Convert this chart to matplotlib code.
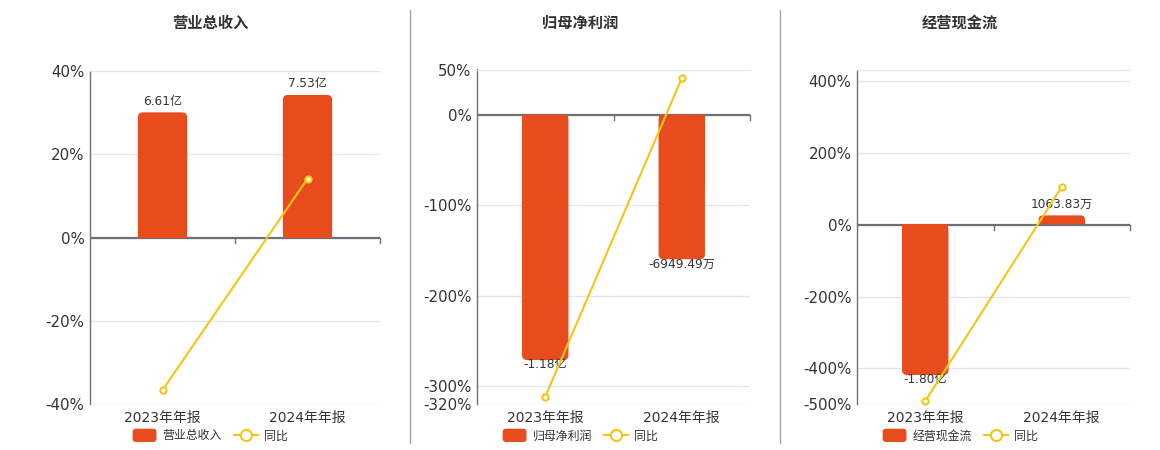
import matplotlib
matplotlib.use("Agg")
import matplotlib.pyplot as plt
from matplotlib.patches import FancyBboxPatch, Rectangle
from matplotlib.lines import Line2D
from matplotlib.legend_handler import HandlerPatch

plt.rcParams['font.family'] = ['DejaVu Sans', 'Noto Sans CJK SC']

# ---------------- data ----------------
categories = ['2023年年报', '2024年年报']

titles = ['营业总收入', '归母净利润', '经营现金流']

# bar values in 亿
revenue = [6.61, 7.53]
net_profit = [-1.18, -0.694949]
cash_flow = [-1.80, 0.106383]

revenue_labels = ['6.61亿', '7.53亿']
net_profit_labels = ['-1.18亿', '-6949.49万']
cash_flow_labels = ['-1.80亿', '1063.83万']

# year-over-year (%)
revenue_yoy = [-36.6, 14.1]
net_profit_yoy = [-311.7, 40.4]
cash_flow_yoy = [-491.0, 106.0]

revenue_ticks = [40, 20, 0, -20, -40]
net_profit_ticks = [50, 0, -100, -200, -300, -320]
cash_flow_ticks = [400, 200, 0, -200, -400, -500]

# ---------------- style ----------------
BAR_C = '#E84C1D'
LINE_C = '#F3C614'
TXT_C = '#333333'
AX_C = '#6E7079'
GRID_C = '#E0E6F1'

W, H = 1160, 450
fig = plt.figure(figsize=(W / 100, H / 100), dpi=100)

panels = [
    dict(title=titles[0], bars=revenue, labels=revenue_labels, yoy=revenue_yoy,
         ticks=revenue_ticks, ylim=(-40, 40), blim=(-8.81, 8.81),
         left=90, right=380, top=70.7, cx=210),
    dict(title=titles[1], bars=net_profit, labels=net_profit_labels, yoy=net_profit_yoy,
         ticks=net_profit_ticks, ylim=(-320, 50), blim=(-1.393, 0.2176),
         left=477, right=750, top=69.5, cx=580),
    dict(title=titles[2], bars=cash_flow, labels=cash_flow_labels, yoy=cash_flow_yoy,
         ticks=cash_flow_ticks, ylim=(-500, 432), blim=(-2.15, 1.843),
         left=857, right=1130, top=70, cx=960),
]
BOTTOM = 404.3


class HandlerRound(HandlerPatch):
    def create_artists(self, legend, orig_handle, xdescent, ydescent, width,
                       height, fontsize, trans):
        p = FancyBboxPatch((-xdescent, -ydescent - 1.5), width, height + 3,
                           boxstyle="round,pad=0,rounding_size=2.5",
                           fc=BAR_C, ec='none', transform=trans)
        return [p]


for p in panels:
    axpos = [p['left'] / W, 1 - BOTTOM / H, (p['right'] - p['left']) / W,
             (BOTTOM - p['top']) / H]
    axw_px = p['right'] - p['left']
    axh_px = BOTTOM - p['top']
    ax = fig.add_axes(axpos)
    ax.set_xlim(-0.5, 1.5)
    ax.set_ylim(*p['ylim'])
    ax.set_yticks(p['ticks'])
    ax.set_yticklabels([f'{t}%' for t in p['ticks']])
    ax.yaxis.grid(True, color=GRID_C, lw=1)
    ax.set_axisbelow(True)
    ax.set_xticks(range(len(categories)))
    ax.set_xticklabels(categories)
    ax.tick_params(axis='x', length=0, pad=5, labelsize=10, labelcolor=TXT_C)
    ax.tick_params(axis='y', length=0, pad=4, labelsize=10.8, labelcolor=TXT_C)
    for s in ['right', 'bottom']:
        ax.spines[s].set_visible(False)
    ax.spines['top'].set_color(GRID_C)
    ax.spines['left'].set_color(AX_C)
    ax.spines['left'].set_linewidth(1)

    # zero axis with category-boundary ticks
    y0, y1 = p['ylim']
    zf = (0 - y0) / (y1 - y0)
    ax.axhline(0, color=AX_C, lw=1.6, zorder=3)
    tick_len = 5.0 / axh_px
    for xb in [0.5, 1.5]:
        ax.plot([xb, xb], [zf, zf - tick_len], color=AX_C, lw=1,
                transform=ax.get_xaxis_transform(), clip_on=False, zorder=3)

    # bars on their own scale
    axb = ax.twinx()
    axb.set_ylim(*p['blim'])
    axb.axis('off')
    xu = 2.0 / axw_px
    yu = (p['blim'][1] - p['blim'][0]) / axh_px
    bw = 0.34
    for i, v in enumerate(p['bars']):
        hpx = abs(v) / yu
        rpx = min(5.0, hpx / 2)
        fb = FancyBboxPatch((i - bw / 2, min(0, v)), bw, abs(v),
                            boxstyle=f"round,pad=0,rounding_size={rpx * xu}",
                            mutation_aspect=yu / xu, fc=BAR_C, ec='none', zorder=2)
        axb.add_patch(fb)
        axb.add_patch(Rectangle((i - bw / 2, 0), bw, v / 2, fc=BAR_C, ec='none', zorder=2))
        if v >= 0:
            axb.annotate(p['labels'][i], (i, v), xytext=(0, 8), textcoords='offset points',
                         ha='center', va='center', fontsize=8.7, color=TXT_C, zorder=5)
        else:
            axb.annotate(p['labels'][i], (i, v), xytext=(0, -3.5), textcoords='offset points',
                         ha='center', va='center', fontsize=8.7, color=TXT_C, zorder=5)

    # yoy line
    axl = ax.twinx()
    axl.set_ylim(*p['ylim'])
    axl.axis('off')
    axl.plot(range(len(categories)), p['yoy'], color=LINE_C, lw=1.5, marker='o',
             ms=4.5, mfc='white', mec=LINE_C, mew=1.5, clip_on=False)

    # title
    fig.text(p['cx'] / W, 1 - 23 / H, p['title'], ha='center', va='center',
             fontsize=11, fontweight='bold', color=TXT_C)

    # legend
    h_bar = Rectangle((0, 0), 1, 1, fc=BAR_C)
    h_line = Line2D([], [], color=LINE_C, lw=1.5, marker='o', ms=8, mfc='white',
                    mec=LINE_C, mew=1.5)
    fig.legend([h_bar, h_line], [p['title'], '同比'], loc='center',
               bbox_to_anchor=(p['cx'] / W, 1 - 436 / H), ncol=2, frameon=False,
               fontsize=8.6, handlelength=2.0, handleheight=0.8, handletextpad=0.5,
               columnspacing=1.0, labelcolor=TXT_C,
               handler_map={Rectangle: HandlerRound()})

# separators
for xs in [410.3, 780.3]:
    fig.add_artist(Line2D([xs / W, xs / W], [1 - 10 / H, 1 - 443 / H],
                          transform=fig.transFigure, color='#A8A8A0', lw=1))

fig.savefig('out.png', dpi=100, facecolor='white')
